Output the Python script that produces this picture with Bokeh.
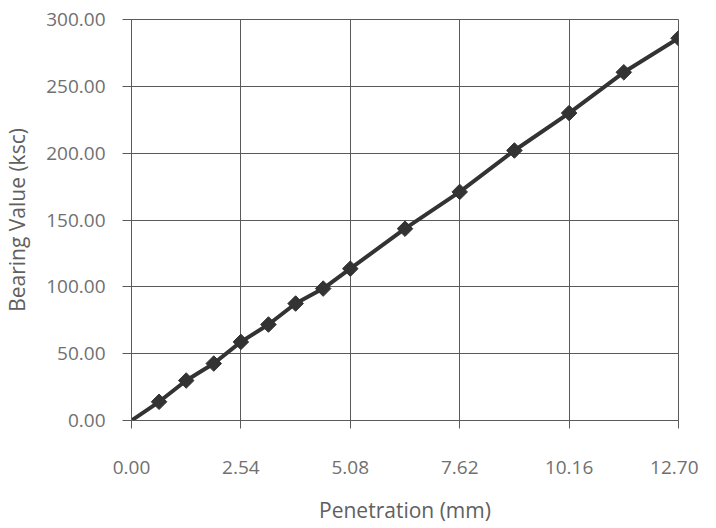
import math
from bokeh.plotting import figure
from bokeh.models import Range1d, FixedTicker, PrintfTickFormatter
from bokeh.embed import file_html
from bokeh.resources import INLINE

penetration = [0.0, 0.64, 1.27, 1.91, 2.54, 3.18, 3.81, 4.45, 5.08, 6.35, 7.62, 8.89, 10.16, 11.43, 12.70]
bearing = [0.0, 14.0, 29.9, 42.6, 58.8, 71.8, 87.5, 98.7, 113.6, 143.5, 171.0, 202.0, 230.0, 260.5, 286.0]
x_ticks = [0.0, 2.54, 5.08, 7.62, 10.16, 12.70]
y_ticks = [0, 50, 100, 150, 200, 250, 300]

GRID = "#5a5a5a"
FONT = "Open Sans"

p = figure(frame_width=547, frame_height=401, output_backend="svg", toolbar_location=None,
           x_range=Range1d(0, 12.70), y_range=Range1d(0, 300),
           min_border_left=123, min_border_right=20, min_border_top=19, min_border_bottom=88)

p.line(penetration, bearing, line_color="#333333", line_width=4)
p.scatter(penetration[1:], bearing[1:], marker="square", angle=math.pi / 4, size=11,
          fill_color="#333333", line_color="#333333")

p.outline_line_color = GRID
p.outline_line_width = 1
p.background_fill_color = "white"
p.border_fill_color = "white"

for g in (p.xgrid, p.ygrid):
    g.grid_line_color = GRID
    g.grid_line_width = 1

p.xaxis.ticker = FixedTicker(ticks=x_ticks)
p.yaxis.ticker = FixedTicker(ticks=y_ticks)
p.xaxis.formatter = PrintfTickFormatter(format="%.2f")
p.yaxis.formatter = PrintfTickFormatter(format="%.2f")

for ax in (p.xaxis, p.yaxis):
    ax.axis_line_color = GRID
    ax.major_tick_line_color = GRID
    ax.minor_tick_line_color = None
    ax.major_tick_in = 0
    ax.major_label_text_font = FONT
    ax.major_label_text_font_size = "19px"
    ax.major_label_text_color = "#707070"
    ax.axis_label_text_font = FONT
    ax.axis_label_text_font_size = "21px"
    ax.axis_label_text_font_style = "normal"
    ax.axis_label_text_color = "#606060"

p.xaxis.major_tick_out = 8
p.yaxis.major_tick_out = 9
p.xaxis.major_label_standoff = 32
p.yaxis.major_label_standoff = 17
p.xaxis.axis_label = "Penetration (mm)"
p.yaxis.axis_label = "Bearing Value (ksc)"
p.xaxis.axis_label_standoff = 19
p.yaxis.axis_label_standoff = 12

open("out.html", "w").write(file_html(p, INLINE))
